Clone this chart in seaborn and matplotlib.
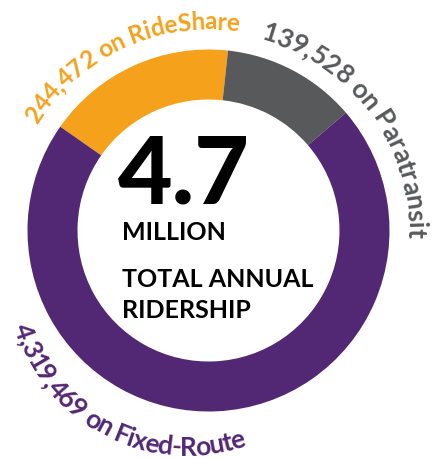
### Ridership donut
## ring of three services, curved labels, headline in the hole

import numpy as np
import matplotlib.pyplot as plt
from matplotlib.font_manager import FontProperties
import seaborn as sns

# services, in drawing order (clockwise from the left of the top)
services = ["RideShare", "Paratransit", "Fixed-Route"]
riders = ["244,472", "139,528", "4,319,469"]
# share of the ring each arc takes in the picture (percent)
arc_share = [17, 12, 71]
colors = ["#F5A11C", "#58595B", "#522773"]

headline = "4.7"
headline_unit = "MILLION"
headline_lines = ["TOTAL ANNUAL", "RIDERSHIP"]

sns.set_theme(style="white")
plt.rcParams["font.family"] = ["Lato", "DejaVu Sans"]

W, H = 443, 460
fig = plt.figure(figsize=(W / 100, H / 100), dpi=100)
ax = fig.add_axes([0, 0, 1, 1])

# ring geometry in pixel units (y up)
cx, cy = 208.5, 228.5
ax.pie(
    arc_share,
    colors=colors,
    startangle=145,
    counterclock=False,
    radius=181,
    center=(cx, cy),
    wedgeprops=dict(width=50, linewidth=0),
)
ax.set_xlim(0, W)
ax.set_ylim(0, H)
ax.set_aspect("equal")
ax.axis("off")

renderer = fig.canvas.get_renderer()


def curved_text(s, center, radius, start_deg, clockwise, size, color, track=0.95):
    """Put the text s on a circle, one glyph at a time."""
    prop = FontProperties(family=["Lato", "DejaVu Sans"], weight="bold", size=size)

    def width(t):
        if not t:
            return 0.0
        return renderer.get_text_width_height_descent(t, prop, ismath=False)[0]

    for i, ch in enumerate(s):
        if ch == " ":
            continue
        mid = track * (width(s[:i]) + width(s[: i + 1])) / 2
        step = np.degrees(mid / radius)
        if clockwise:
            theta = start_deg - step
            rot = theta - 90
        else:
            theta = start_deg + step
            rot = theta + 90
        x = center[0] + radius * np.cos(np.radians(theta))
        y = center[1] + radius * np.sin(np.radians(theta))
        ax.text(x, y, ch, fontproperties=prop, color=color, rotation=rot,
                rotation_mode="anchor", ha="center", va="baseline")


# labels: value + service, each on its own arc
curved_text(f"{riders[0]} on {services[0]}", (cx, cy), 202, 148, True, 17.5, colors[0], 0.98)
curved_text(f"{riders[1]} on {services[1]}", (cx, cy), 199, 75, True, 19, colors[1], 0.99)
curved_text(f"{riders[2]} on {services[2]}", (186.6, 185.2), 181, 197, False, 19, colors[2], 0.95)

# headline in the hole
ax.text(118, H - 203, headline, fontsize=68, fontweight="black", color="black",
        ha="left", va="baseline")
for txt, base in zip([headline_unit] + headline_lines, [240, 287, 318]):
    ax.text(122, H - base, txt, fontsize=18, fontweight="bold", color="black",
            ha="left", va="baseline")

fig.savefig("out.png", dpi=100, facecolor="white")
